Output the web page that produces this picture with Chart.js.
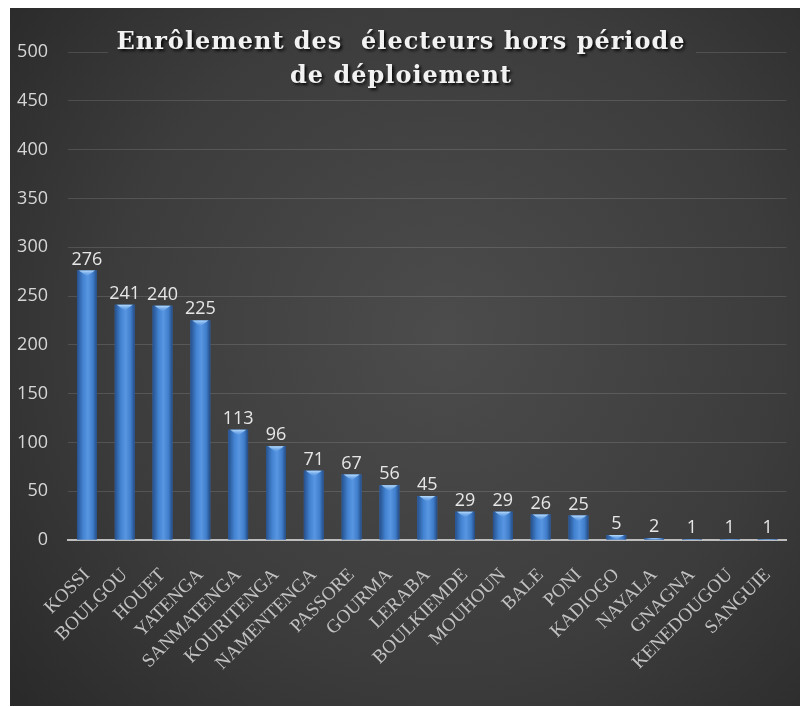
<!DOCTYPE html>
<html lang="fr">
<head>
  <meta charset="UTF-8">
  <title>Enrôlement des électeurs hors période de déploiement</title>
  <script src="https://cdn.jsdelivr.net/npm/chart.js"></script>
  <style>
    body { margin: 0; background: #fff; }
    #wrap { position: absolute; left: 10px; top: 8px; width: 790px; height: 698px; }
  </style>
</head>
<body>
  <div id="wrap"><canvas id="chart"></canvas></div>

  <script>
    const provinces = ['KOSSI', 'BOULGOU', 'HOUET', 'YATENGA', 'SANMATENGA', 'KOURITENGA',
      'NAMENTENGA', 'PASSORE', 'GOURMA', 'LERABA', 'BOULKIEMDE', 'MOUHOUN', 'BALE',
      'PONI', 'KADIOGO', 'NAYALA', 'GNAGNA', 'KENEDOUGOU', 'SANGUIE'];
    const enroles = [276, 241, 240, 225, 113, 96, 71, 67, 56, 45, 29, 29, 26, 25, 5, 2, 1, 1, 1];
    const titleLines = ['Enrôlement des  électeurs hors période', 'de déploiement'];
    const yMax = 500, yStep = 50;

    let bgGrad = null;
    function background(chart) {
      const { ctx, width, height } = chart;
      const g = ctx.createRadialGradient(width * 0.55, height * 0.47, 0, width * 0.55, height * 0.47, 560);
      g.addColorStop(0, '#4c4c4c');
      g.addColorStop(0.6, '#3c3c3c');
      g.addColorStop(1, '#2a2a2a');
      return g;
    }

    // dark radial backdrop
    const backdrop = {
      id: 'backdrop',
      beforeDraw(chart) {
        const { ctx, width, height } = chart;
        bgGrad = background(chart);
        ctx.save();
        ctx.fillStyle = bgGrad;
        ctx.fillRect(0, 0, width, height);
        ctx.restore();
      }
    };

    // cylinder shading on each bar + value labels
    const barShading = {
      id: 'barShading',
      afterDatasetsDraw(chart) {
        const { ctx } = chart;
        const meta = chart.getDatasetMeta(0);
        ctx.save();
        meta.data.forEach((bar, i) => {
          const { x, y, base, width } = bar.getProps(['x', 'y', 'base', 'width'], true);
          const l = x - width / 2, r = x + width / 2;
          const g = ctx.createLinearGradient(l, 0, r, 0);
          g.addColorStop(0, '#26508c');
          g.addColorStop(0.3, '#4282d0');
          g.addColorStop(0.55, '#5896e2');
          g.addColorStop(0.8, '#407ecb');
          g.addColorStop(1, '#244b84');
          ctx.fillStyle = g;
          ctx.fillRect(l, y, width, base - y);
          // light cap at the top of the bar
          const h = Math.min(6, base - y);
          if (h > 0) {
            const cg = ctx.createLinearGradient(0, y, 0, y + h);
            cg.addColorStop(0, 'rgba(190,225,255,0.95)');
            cg.addColorStop(1, 'rgba(120,175,240,0)');
            ctx.fillStyle = cg;
            ctx.beginPath();
            ctx.moveTo(l + 2, y);
            ctx.lineTo(r - 2, y);
            ctx.lineTo(x, y + h);
            ctx.closePath();
            ctx.fill();
          }
          ctx.font = '18px "Open Sans"';
          ctx.fillStyle = '#e6e6e6';
          ctx.textAlign = 'center';
          ctx.textBaseline = 'alphabetic';
          ctx.fillText(String(enroles[i]), x, y - 6);
        });
        ctx.restore();
      }
    };

    // title drawn over the plot on its own patch of background
    const overlayTitle = {
      id: 'overlayTitle',
      afterDraw(chart) {
        const { ctx } = chart;
        const cx = 391;
        ctx.save();
        ctx.fillStyle = bgGrad;
        ctx.fillRect(98, 20, 588, 72);
        ctx.font = 'bold 24px "DejaVu Serif"';
        ctx.letterSpacing = '1px';
        ctx.textAlign = 'center';
        ctx.textBaseline = 'alphabetic';
        ctx.shadowColor = 'rgba(0,0,0,0.85)';
        ctx.shadowBlur = 3;
        ctx.shadowOffsetX = 2;
        ctx.shadowOffsetY = 2;
        ctx.fillStyle = '#f2f2f2';
        ctx.fillText(titleLines[0], cx, 41);
        ctx.fillText(titleLines[1], cx, 75);
        ctx.restore();
      }
    };

    new Chart(document.getElementById('chart'), {
      type: 'bar',
      data: {
        labels: provinces,
        datasets: [{
          data: enroles,
          backgroundColor: '#3f7bc8',
          barPercentage: 0.75,
          categoryPercentage: 0.7
        }]
      },
      options: {
        responsive: true,
        maintainAspectRatio: false,
        animation: false,
        layout: { padding: { top: 44, right: 12, bottom: 0, left: 0 } },
        plugins: {
          legend: { display: false },
          tooltip: { enabled: false }
        },
        scales: {
          y: {
            min: 0,
            max: yMax,
            ticks: {
              stepSize: yStep,
              padding: 20,
              color: '#d6d6d6',
              font: { family: 'Open Sans', size: 18 }
            },
            grid: { color: 'rgba(255,255,255,0.13)', lineWidth: 1, drawTicks: false },
            border: { display: false },
            afterFit(scale) { scale.width = 58; }
          },
          x: {
            ticks: {
              minRotation: 45,
              maxRotation: 45,
              autoSkip: false,
              padding: 16,
              color: '#c2c2c2',
              font: { family: 'Liberation Serif', size: 19 }
            },
            grid: { display: false },
            border: { color: '#bdbdbd', width: 2 },
            afterFit(scale) { scale.height = 166; }
          }
        }
      },
      plugins: [backdrop, barShading, overlayTitle]
    });
  </script>
</body>
</html>
